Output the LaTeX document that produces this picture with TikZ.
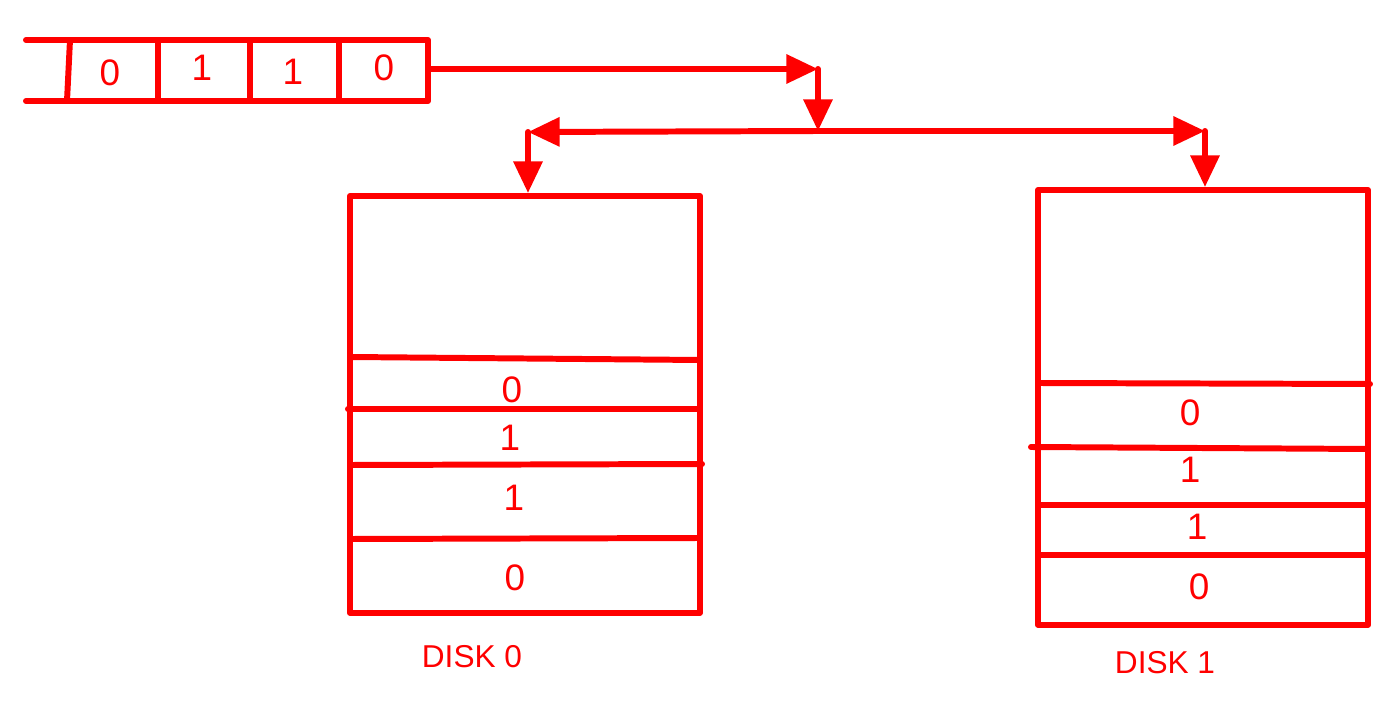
\documentclass[tikz,border=0pt]{standalone}
\usepackage{fontspec}
\setmainfont{Liberation Sans}
\usetikzlibrary{arrows.meta}
\usetikzlibrary{calc}
\definecolor{raid-red}{HTML}{FF0000}

\begin{document}
\begin{tikzpicture}[x=0.02cm, y=-0.02cm, color=raid-red, line width=3.4pt, line cap=round, line join=round,
  bit/.style={inner sep=0pt, font=\fontsize{21}{25}\selectfont},
  disk name/.style={inner sep=0pt, font=\fontsize{18}{22}\selectfont},
  feed/.style={-{Triangle[length=18pt,width=16pt]}}]
\useasboundingbox (0,0) rectangle (1397,702);
% incoming stripe
\draw (26,40) -- (428,40) -- (428,101) -- (26,101);
\draw (70,40) -- (67,101);
\foreach \x in {158,250,339}
  \draw (\x,40) -- (\x,101);
\foreach \x/\y/\bit/\name in {110/73/0/a, 202/68/1/b, 293/72/1/c, 384/68/0/d}
  \node[bit] (cell-\name) at (\x,\y) {\bit};
% disks
\node[draw, inner sep=0pt, minimum width=7cm, minimum height=8.34cm]
  (disk0)
  at (525,404.5)
  {};
\node[draw, inner sep=0pt, minimum width=6.6cm, minimum height=8.7cm]
  (disk1)
  at (1203,407.5)
  {};
\foreach \xa/\ya/\xb/\yb in {350/357/700/360, 348/409/700/409, 350/465/702/464, 350/539/700/538,
    1038/383/1370/384, 1031/447/1368/449, 1038/505/1368/505, 1038/555/1368/555}
  \draw (\xa,\ya) -- (\xb,\yb);
\foreach \x/\y/\bit/\name in {
    512/390/0/0a, 510/438/1/0b, 514/498/1/0c, 515/578/0/0d,
    1190/413/0/1a, 1190/470/1/1b, 1197/527/1/1c, 1199/587/0/1d}
  \node[bit] (block-\name) at (\x,\y) {\bit};
\node[disk name] (name0) at (472,657) {DISK 0};
\node[disk name] (name1) at (1165,663) {DISK 1};
% routing
\coordinate (stream-out) at (428,69);
\coordinate (split) at (818,69);
\coordinate (fork) at (818,131);
\coordinate (left-turn) at (528,132);
\coordinate (right-turn) at (1205,131);
\draw[feed] (stream-out) -- (split);
\draw[feed] (split) -- (fork);
\draw[feed] (fork) -- (left-turn);
\draw[feed] (fork) -- (right-turn);
\draw[feed] (left-turn) -- (left-turn |- disk0.north);
\draw[feed] (right-turn) -- (right-turn |- disk1.north);
\end{tikzpicture}
\end{document}
